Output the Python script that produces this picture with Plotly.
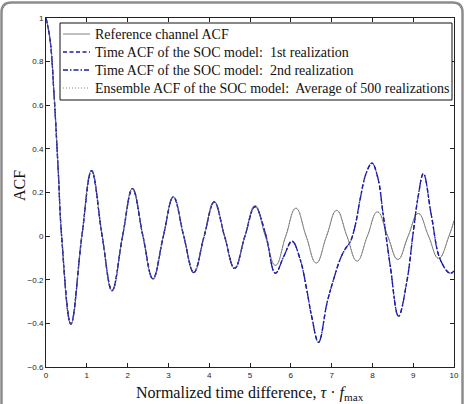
import plotly.graph_objects as go

# ---------------- data ----------------
ref_tau = [0, 0.1, 0.2, 0.3, 0.383, 0.61, 0.879, 1.117, 1.377, 1.619, 1.877, 2.12, 2.376,
           2.621, 2.876, 3.122, 3.376, 3.623, 3.876, 4.123, 4.376, 4.623, 4.876, 5.123,
           5.376, 5.623, 5.876, 6.124, 6.376, 6.624, 6.876, 7.124, 7.376, 7.624, 7.876,
           8.124, 8.376, 8.624, 8.876, 9.124, 9.376, 9.624, 9.876, 10]
ref_acf = [1, 0.90, 0.64, 0.30, 0, -0.403, 0, 0.300, 0, -0.250, 0, 0.218, 0,
           -0.196, 0, 0.180, 0, -0.167, 0, 0.157, 0, -0.148, 0, 0.140,
           0, -0.134, 0, 0.128, 0, -0.123, 0, 0.118, 0, -0.114, 0,
           0.111, 0, -0.107, 0, 0.104, 0, -0.102, 0, 0.071]

soc_tau = [0, 0.1, 0.2, 0.3, 0.383, 0.61, 0.879, 1.117, 1.377, 1.619, 1.877, 2.12, 2.376,
           2.621, 2.876, 3.122, 3.376, 3.623, 3.876, 4.123, 4.376, 4.623, 4.876, 5.123,
           5.38, 5.62, 5.83, 6.03, 6.23, 6.39, 6.51, 6.68, 6.89, 7.05, 7.21, 7.33, 7.46,
           7.58, 7.70, 7.85, 7.99, 8.13, 8.27, 8.44, 8.64, 8.84, 9.0, 9.12, 9.25, 9.45,
           9.66, 9.9, 10]
soc_acf_1 = [1, 0.90, 0.64, 0.30, 0, -0.403, 0, 0.300, 0, -0.250, 0, 0.218, 0,
             -0.196, 0, 0.180, 0, -0.167, 0, 0.157, 0, -0.148, 0, 0.135,
             0.01, -0.17, -0.092, -0.023, -0.107, -0.245, -0.367, -0.487, -0.304, -0.198,
             -0.106, -0.06, -0.025, 0.05, 0.17, 0.29, 0.335, 0.27, 0.09, -0.14, -0.367,
             -0.213, 0.016, 0.18, 0.287, 0.09, -0.106, -0.17, -0.16]
soc_acf_2 = list(soc_acf_1)
ens_acf = list(ref_acf)

x_ticks = list(range(0, 11))
y_ticks = [-0.6, -0.4, -0.2, 0, 0.2, 0.4, 0.6, 0.8, 1]
y_tick_text = ["\u22120.6", "\u22120.4", "\u22120.2", "0", "0.2", "0.4", "0.6", "0.8", "1"]

names = ["Reference channel ACF",
         "Time ACF of the SOC model:  1st realization",
         "Time ACF of the SOC model:  2nd realization",
         "Ensemble ACF of the SOC model:  Average of 500 realizations"]

# ---------------- layout geometry ----------------
W, H = 472, 404
ML, MR, MT, MB = 46, 18, 18, 37
PW, PH = W - ML - MR, H - MT - MB


def px(x):
    return (x - ML) / PW


def py(y):
    return (H - MB - y) / PH


serif = "Liberation Serif"
sans = "Liberation Sans, Arial, sans-serif"
blue = "#1c1ca8"
gray = "#808080"

styles = [dict(color=gray, width=1, dash="solid"),
          dict(color=blue, width=1.3, dash="4px,2.5px"),
          dict(color=blue, width=1.3, dash="5px,2px,1.5px,2px"),
          dict(color=gray, width=1, dash="1px,2px")]

fig = go.Figure()
fig.add_trace(go.Scatter(x=ref_tau, y=ref_acf, mode="lines", name=names[0],
                         line=dict(**styles[0], shape="spline", smoothing=1.3)))
fig.add_trace(go.Scatter(x=soc_tau, y=soc_acf_1, mode="lines", name=names[1],
                         line=dict(**styles[1], shape="spline", smoothing=1.1)))
fig.add_trace(go.Scatter(x=soc_tau, y=soc_acf_2, mode="lines", name=names[2],
                         line=dict(**styles[2], shape="spline", smoothing=1.1)))
fig.add_trace(go.Scatter(x=ref_tau, y=ens_acf, mode="lines", name=names[3],
                         line=dict(**styles[3], shape="spline", smoothing=1.3)))

axis_common = dict(showgrid=False, zeroline=False, showline=True, mirror="ticks",
                   linecolor="#222", linewidth=1, ticks="inside", ticklen=4,
                   tickcolor="#222", tickfont=dict(family=sans, size=8, color="#222"))

fig.update_xaxes(range=[0, 10], tickvals=x_ticks, **axis_common)
fig.update_yaxes(range=[-0.6, 1], tickvals=y_ticks, ticktext=y_tick_text, **axis_common)

# rounded outer frame
fx = [px(1.5), px(462.5)]
fy_top = py(2.5)
rx = 10 / PW
ry = 10 / PH
frame_path = (f"M {fx[0]},{py(430)} L {fx[0]},{fy_top - ry} "
              f"Q {fx[0]},{fy_top} {fx[0] + rx},{fy_top} "
              f"L {fx[1] - rx},{fy_top} Q {fx[1]},{fy_top} {fx[1]},{fy_top - ry} "
              f"L {fx[1]},{py(430)}")

shapes = [
    dict(type="path", xref="paper", yref="paper", path=frame_path,
         line=dict(color="#8c8c8c", width=2.5), layer="above"),
    dict(type="rect", xref="paper", yref="paper", x0=px(60), x1=px(452), y0=py(100), y1=py(23),
         line=dict(color="#111", width=1), fillcolor="white", layer="above"),
]

annotations = [
    dict(text="Normalized time difference, <i>τ</i> · <i>f</i><sub>max</sub>",
         xref="paper", yref="paper", x=px(250), y=py(393), showarrow=False,
         font=dict(family=serif, size=16, color="#111"), xanchor="center", yanchor="middle"),
    dict(text="ACF", xref="paper", yref="paper", x=px(19), y=py(186), showarrow=False,
         textangle=-90, font=dict(family=serif, size=16, color="#111"),
         xanchor="center", yanchor="middle"),
]

# hand-built legend inside the box
row_y = [34, 52, 70, 88]
for name, st, yy in zip(names, styles, row_y):
    shapes.append(dict(type="line", xref="paper", yref="paper", x0=px(63), x1=px(90),
                       y0=py(yy), y1=py(yy),
                       line=dict(color=st["color"], width=st["width"], dash=st["dash"]),
                       layer="above"))
    annotations.append(dict(text=name, xref="paper", yref="paper", x=px(93), y=py(yy),
                            xanchor="left", yanchor="middle", showarrow=False,
                            font=dict(family=serif, size=14, color="#111")))

fig.update_layout(
    width=W, height=H,
    margin=dict(l=ML, r=MR, t=MT, b=MB, autoexpand=False),
    paper_bgcolor="white", plot_bgcolor="white",
    shapes=shapes, annotations=annotations,
    showlegend=False,
)

fig.write_html("out.html")
